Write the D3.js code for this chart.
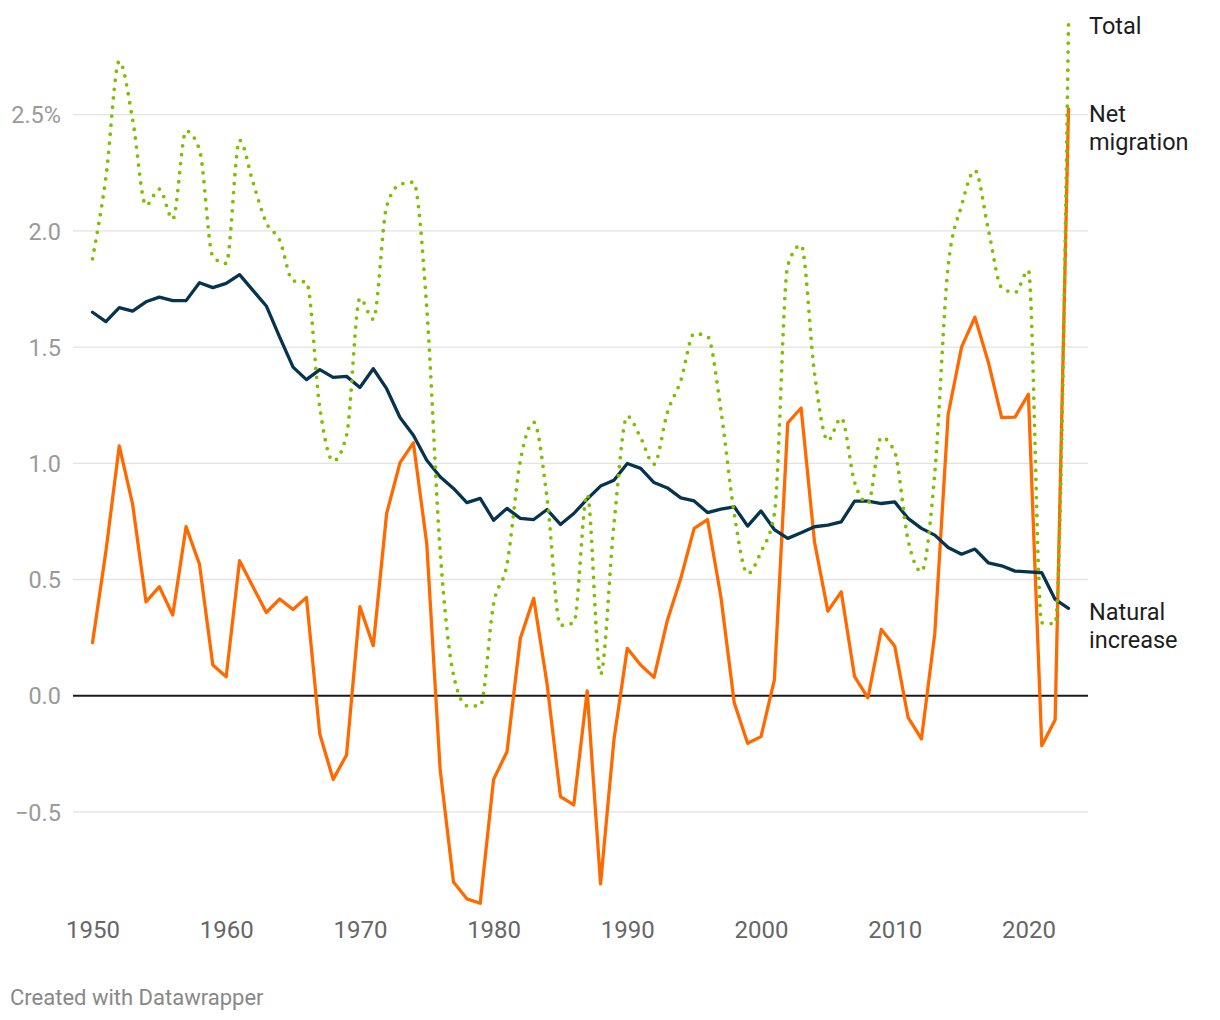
<!DOCTYPE html>
<html>
<head>
<meta charset="utf-8">
<script src="https://cdn.jsdelivr.net/npm/d3@7"></script>
<style>
  html, body { margin: 0; padding: 0; background: #fff; }
  svg { display: block; font-family: Roboto, "Noto Sans", sans-serif; }
</style>
</head>
<body>
<svg id="chart" width="1220" height="1020"></svg>
<script>
const years = d3.range(1950, 2024);

const naturalIncrease = [
  1.65, 1.61, 1.67, 1.655, 1.695, 1.715, 1.70, 1.70, 1.777, 1.756,
  1.774, 1.812, 1.744, 1.677, 1.543, 1.414, 1.36, 1.403, 1.37, 1.374,
  1.326, 1.407, 1.321, 1.197, 1.121, 1.013, 0.942, 0.892, 0.831, 0.849,
  0.755, 0.806, 0.763, 0.758, 0.801, 0.737, 0.784, 0.846, 0.902, 0.927,
  0.999, 0.978, 0.917, 0.894, 0.851, 0.838, 0.788, 0.803, 0.813, 0.73,
  0.795, 0.715, 0.677, 0.701, 0.727, 0.734, 0.748, 0.837, 0.837, 0.827,
  0.834, 0.763, 0.72, 0.691, 0.638, 0.609, 0.631, 0.572, 0.559, 0.536,
  0.533, 0.529, 0.414, 0.376
];

const netMigration = [
  0.228, 0.62, 1.075, 0.824, 0.404, 0.469, 0.347, 0.727, 0.566, 0.132,
  0.082, 0.581, 0.469, 0.358, 0.416, 0.371, 0.423, -0.165, -0.36, -0.255,
  0.383, 0.215, 0.784, 1.003, 1.088, 0.655, -0.317, -0.802, -0.874, -0.893,
  -0.36, -0.241, 0.247, 0.419, 0.05, -0.434, -0.47, 0.021, -0.81, -0.19,
  0.204, 0.132, 0.079, 0.325, 0.505, 0.72, 0.758, 0.426, -0.03, -0.205,
  -0.176, 0.068, 1.174, 1.238, 0.662, 0.364, 0.447, 0.082, -0.009, 0.285,
  0.214, -0.093, -0.186, 0.268, 1.211, 1.5, 1.629, 1.436, 1.197, 1.199,
  1.297, -0.215, -0.104, 2.525
];

const total = [
  1.88, 2.23, 2.73, 2.48, 2.11, 2.18, 2.05, 2.43, 2.35, 1.89,
  1.86, 2.39, 2.21, 2.035, 1.96, 1.785, 1.78, 1.24, 1.01, 1.12,
  1.71, 1.62, 2.105, 2.20, 2.21, 1.67, 0.625, 0.09, -0.043, -0.044,
  0.395, 0.565, 1.01, 1.177, 0.85, 0.303, 0.314, 0.867, 0.092, 0.737,
  1.203, 1.11, 0.996, 1.219, 1.356, 1.558, 1.546, 1.229, 0.783, 0.525,
  0.619, 0.783, 1.851, 1.939, 1.389, 1.098, 1.195, 0.919, 0.828, 1.112,
  1.048, 0.67, 0.534, 0.959, 1.849, 2.109, 2.26, 2.008, 1.756, 1.735,
  1.83, 0.314, 0.31, 2.89
];

const yTicks = [-0.5, 0, 0.5, 1.0, 1.5, 2.0, 2.5];
const yTickLabels = ["\u22120.5", "0.0", "0.5", "1.0", "1.5", "2.0", "2.5%"];
const xTicks = [1950, 1960, 1970, 1980, 1990, 2000, 2010, 2020];

const seriesLabels = [
  { name: "Total", lines: ["Total"], series: total },
  { name: "Net migration", lines: ["Net", "migration"], series: netMigration },
  { name: "Natural increase", lines: ["Natural", "increase"], series: naturalIncrease }
];

const svg = d3.select("#chart");

const x = d3.scaleLinear().domain([1950, 2023]).range([92.5, 1068.5]);
const y = d3.scaleLinear().domain([0, 2.5]).range([695.7, 114.7]);

const gridLeft = 73, gridRight = 1088;

// Y axis labels
const yAxis = d3.axisLeft(y)
  .tickValues(yTicks)
  .tickSize(0)
  .tickFormat((d, i) => yTickLabels[i]);

const gy = svg.append("g").attr("transform", `translate(61,0)`).call(yAxis);
gy.select(".domain").remove();
gy.selectAll("text")
  .attr("x", 0)
  .attr("dy", "0.35em")
  .attr("fill", "#9a9a9a")
  .style("font-size", "23.5px")
  .style("font-family", "Roboto, sans-serif")
  .attr("text-anchor", "end");

// Gridlines
svg.append("g").selectAll("line")
  .data(yTicks.filter(d => d !== 0))
  .join("line")
  .attr("x1", gridLeft).attr("x2", gridRight)
  .attr("y1", d => y(d)).attr("y2", d => y(d))
  .attr("stroke", "#e2e2e2")
  .attr("stroke-width", 1.3);

// X axis labels
const xAxis = d3.axisBottom(x)
  .tickValues(xTicks)
  .tickSize(0)
  .tickFormat(d3.format("d"));
const gx = svg.append("g").attr("transform", `translate(0,930)`).call(xAxis);
gx.select(".domain").remove();
gx.selectAll("text")
  .attr("y", 0)
  .attr("dy", "0.35em")
  .attr("fill", "#666")
  .style("font-size", "24px")
  .style("font-family", "Roboto, sans-serif");

// Zero baseline
svg.append("line")
  .attr("x1", gridLeft).attr("x2", gridRight)
  .attr("y1", y(0)).attr("y2", y(0))
  .attr("stroke", "#1a1a1a")
  .attr("stroke-width", 2);

const straight = d3.line()
  .x((d, i) => x(years[i]))
  .y(d => y(d));

const smooth = d3.line()
  .x((d, i) => x(years[i]))
  .y(d => y(d))
  .curve(d3.curveMonotoneX);

// Net migration
svg.append("path")
  .datum(netMigration)
  .attr("d", straight)
  .attr("fill", "none")
  .attr("stroke", "#ff6a00")
  .attr("stroke-width", 3.3)
  .attr("stroke-linejoin", "round")
  .attr("stroke-linecap", "round");

// Natural increase
svg.append("path")
  .datum(naturalIncrease)
  .attr("d", straight)
  .attr("fill", "none")
  .attr("stroke", "#06344f")
  .attr("stroke-width", 3.3)
  .attr("stroke-linejoin", "round")
  .attr("stroke-linecap", "round");

// Total (dotted)
svg.append("path")
  .datum(total)
  .attr("d", smooth)
  .attr("fill", "none")
  .attr("stroke", "#7fbf00")
  .attr("stroke-width", 3.8)
  .attr("stroke-dasharray", "0 9")
  .attr("stroke-linecap", "round");

// Right-side labels
const labelPos = [
  { lines: seriesLabels[0].lines, y0: 26 },
  { lines: seriesLabels[1].lines, y0: 114 },
  { lines: seriesLabels[2].lines, y0: 612 }
];
labelPos.forEach(lp => {
  const t = svg.append("text")
    .attr("x", 1089)
    .attr("y", lp.y0)
    .attr("fill", "#1d1d1d")
    .style("font-size", "23.5px")
    .style("font-family", "Roboto, sans-serif");
  lp.lines.forEach((ln, i) => {
    t.append("tspan")
      .attr("x", 1089)
      .attr("y", lp.y0 + i * 28)
      .attr("dy", "0.35em")
      .text(ln);
  });
});

// Footer
svg.append("text")
  .attr("x", 10)
  .attr("y", 997)
  .attr("dy", "0.35em")
  .attr("fill", "#888")
  .style("font-size", "22px")
  .style("font-family", "Roboto, sans-serif")
  .text("Created with Datawrapper");
</script>
</body>
</html>
